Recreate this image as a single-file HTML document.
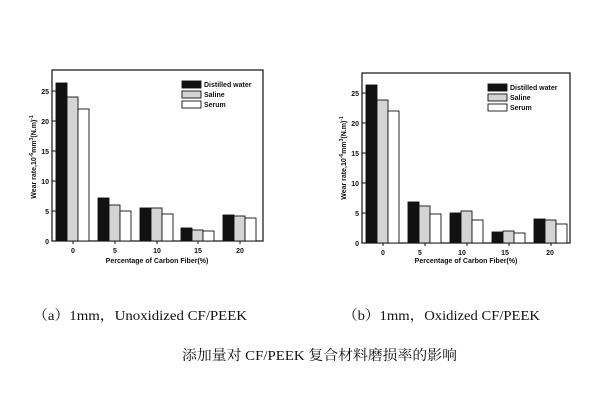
<!DOCTYPE html>
<html><head><meta charset="utf-8"><style>
html,body{margin:0;padding:0;background:#fff;}
svg{display:block}
</style></head><body>
<svg width="600" height="400" viewBox="0 0 600 400" xmlns="http://www.w3.org/2000/svg" font-family="Liberation Sans, Arial, sans-serif">
<rect width="600" height="400" fill="#fff"/>
<!-- LEFT CHART -->
<g stroke="#111" stroke-width="1.2" fill="none">
<rect x="52" y="70" width="211" height="171"/>
</g>
<g stroke="#111" stroke-width="1">
<line x1="52" y1="241" x2="56" y2="241"/><line x1="52" y1="211" x2="56" y2="211"/><line x1="52" y1="181" x2="56" y2="181"/><line x1="52" y1="151" x2="56" y2="151"/><line x1="52" y1="121" x2="56" y2="121"/><line x1="52" y1="91" x2="56" y2="91"/>
<line x1="73" y1="241" x2="73" y2="244"/><line x1="115" y1="241" x2="115" y2="244"/><line x1="157" y1="241" x2="157" y2="244"/><line x1="198" y1="241" x2="198" y2="244"/><line x1="240" y1="241" x2="240" y2="244"/>
</g>
<g font-size="7" font-weight="bold" fill="#111" text-anchor="end">
<text x="49" y="244">0</text><text x="49" y="214">5</text><text x="49" y="184">10</text><text x="49" y="154">15</text><text x="49" y="124">20</text><text x="49" y="94">25</text>
</g>
<g font-size="7" font-weight="bold" fill="#111" text-anchor="middle">
<text x="73" y="253">0</text><text x="115" y="253">5</text><text x="157" y="253">10</text><text x="198" y="253">15</text><text x="240" y="253">20</text>
<text x="157" y="263">Percentage of Carbon Fiber(%)</text>
<text transform="translate(36,157) rotate(-90)">Wear rate,10<tspan font-size="5" dy="-3">-6</tspan><tspan dy="3">mm</tspan><tspan font-size="5" dy="-3">3</tspan><tspan dy="3">(N.m)</tspan><tspan font-size="5" dy="-3">-1</tspan></text>
</g>
<g stroke="#111" stroke-width="0.9">
<rect x="56" y="83" width="11" height="158" fill="#111"/><rect x="67" y="97" width="11" height="144" fill="#d4d4d4"/><rect x="78" y="109" width="11" height="132" fill="#fff"/>
<rect x="98" y="198" width="11" height="43" fill="#111"/><rect x="109" y="205" width="11" height="36" fill="#d4d4d4"/><rect x="120" y="211" width="11" height="30" fill="#fff"/>
<rect x="140" y="208" width="11" height="33" fill="#111"/><rect x="151" y="208" width="11" height="33" fill="#d4d4d4"/><rect x="162" y="214" width="11" height="27" fill="#fff"/>
<rect x="181" y="228" width="11" height="13" fill="#111"/><rect x="192" y="230" width="11" height="11" fill="#d4d4d4"/><rect x="203" y="231" width="11" height="10" fill="#fff"/>
<rect x="223" y="215" width="11" height="26" fill="#111"/><rect x="234" y="216" width="11" height="25" fill="#d4d4d4"/><rect x="245" y="218" width="11" height="23" fill="#fff"/>
<rect x="182" y="81" width="19" height="7" fill="#111"/><rect x="182" y="91" width="19" height="7" fill="#d4d4d4"/><rect x="182" y="101" width="19" height="7" fill="#fff"/>
</g>
<g font-size="7" font-weight="bold" fill="#111">
<text x="204" y="87">Distilled water</text><text x="204" y="97">Saline</text><text x="204" y="107">Serum</text>
</g>

<!-- RIGHT CHART -->
<g stroke="#111" stroke-width="1.2" fill="none">
<rect x="362" y="73" width="208" height="170"/>
</g>
<g stroke="#111" stroke-width="1">
<line x1="362" y1="243" x2="366" y2="243"/><line x1="362" y1="213" x2="366" y2="213"/><line x1="362" y1="183" x2="366" y2="183"/><line x1="362" y1="153" x2="366" y2="153"/><line x1="362" y1="123" x2="366" y2="123"/><line x1="362" y1="93" x2="366" y2="93"/>
<line x1="383" y1="243" x2="383" y2="246"/><line x1="425" y1="243" x2="425" y2="246"/><line x1="467" y1="243" x2="467" y2="246"/><line x1="509" y1="243" x2="509" y2="246"/><line x1="551" y1="243" x2="551" y2="246"/>
</g>
<g font-size="7" font-weight="bold" fill="#111" text-anchor="end">
<text x="359" y="246">0</text><text x="359" y="216">5</text><text x="359" y="186">10</text><text x="359" y="156">15</text><text x="359" y="126">20</text><text x="359" y="96">25</text>
</g>
<g font-size="7" font-weight="bold" fill="#111" text-anchor="middle">
<text x="383" y="255">0</text><text x="420" y="255">5</text><text x="462" y="255">10</text><text x="505" y="255">15</text><text x="550" y="255">20</text>
<text x="466" y="263">Percentage of Carbon Fiber(%)</text>
<text transform="translate(346,158) rotate(-90)">Wear rate,10<tspan font-size="5" dy="-3">-6</tspan><tspan dy="3">mm</tspan><tspan font-size="5" dy="-3">3</tspan><tspan dy="3">(N.m)</tspan><tspan font-size="5" dy="-3">-1</tspan></text>
</g>
<g stroke="#111" stroke-width="0.9">
<rect x="366" y="85" width="11" height="158" fill="#111"/><rect x="377" y="100" width="11" height="143" fill="#d4d4d4"/><rect x="388" y="111" width="11" height="132" fill="#fff"/>
<rect x="408" y="202" width="11" height="41" fill="#111"/><rect x="419" y="206" width="11" height="37" fill="#d4d4d4"/><rect x="430" y="214" width="11" height="29" fill="#fff"/>
<rect x="450" y="213" width="11" height="30" fill="#111"/><rect x="461" y="211" width="11" height="32" fill="#d4d4d4"/><rect x="472" y="220" width="11" height="23" fill="#fff"/>
<rect x="492" y="232" width="11" height="11" fill="#111"/><rect x="503" y="231" width="11" height="12" fill="#d4d4d4"/><rect x="514" y="233" width="11" height="10" fill="#fff"/>
<rect x="534" y="219" width="11" height="24" fill="#111"/><rect x="545" y="220" width="11" height="23" fill="#d4d4d4"/><rect x="556" y="224" width="11" height="19" fill="#fff"/>
<rect x="488" y="84" width="19" height="7" fill="#111"/><rect x="488" y="94" width="19" height="7" fill="#d4d4d4"/><rect x="488" y="104" width="19" height="7" fill="#fff"/>
</g>
<g font-size="7" font-weight="bold" fill="#111">
<text x="510" y="90">Distilled water</text><text x="510" y="100">Saline</text><text x="510" y="110">Serum</text>
</g>

<!-- CAPTIONS -->
<g font-family="Liberation Serif, 'Noto Serif CJK SC', serif" font-size="14" fill="#111">
<text x="33" y="320" textLength="214" lengthAdjust="spacingAndGlyphs">（a）1mm，Unoxidized CF/PEEK</text>
<text x="343" y="320" textLength="197" lengthAdjust="spacingAndGlyphs">（b）1mm，Oxidized CF/PEEK</text>
<text x="182" y="360" textLength="275" lengthAdjust="spacingAndGlyphs">添加量对 CF/PEEK 复合材料磨损率的影响</text>
</g>
</svg>
</body></html>
